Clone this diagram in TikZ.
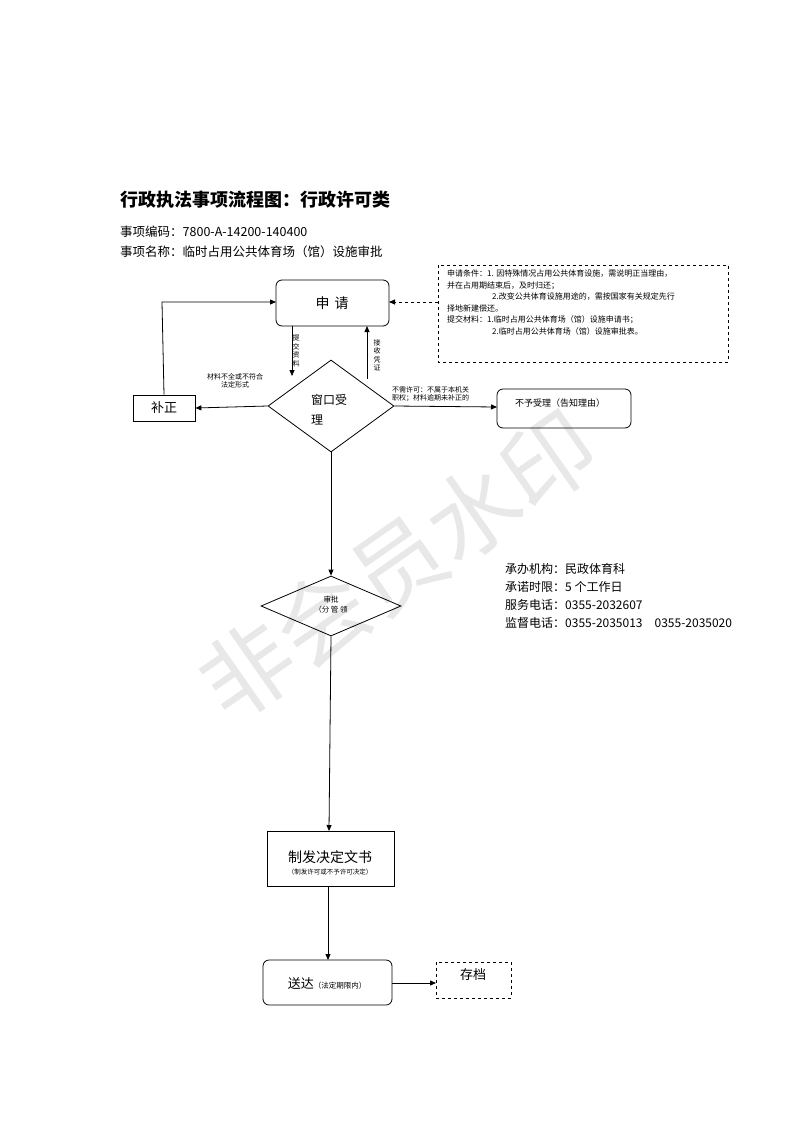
\documentclass[tikz,border=0pt]{standalone}
\usepackage{fontspec}
\setmainfont{Noto Sans CJK SC}
\usetikzlibrary{shapes.geometric,arrows.meta}
\begin{document}
\begin{tikzpicture}[x=1pt,y=-1pt,
 every node/.style={inner sep=0pt},
 arr/.style={-{Triangle[length=6pt,width=5pt]},line width=0.8pt},
 ln/.style={line width=0.8pt},
 tiny/.style={font=\fontsize{7}{8}\selectfont,align=center},
 vert/.style={font=\fontsize{7}{8.5}\selectfont,align=center}]
\useasboundingbox (0,0) rectangle (793,1122);
\node[rotate=35,text=black!9,font=\fontsize{92}{92}\selectfont] (wm) at (398,565) {非会员水印};
\node[anchor=west,font=\bfseries\fontsize{18}{20}\selectfont] (title) at (120,200) {行政执法事项流程图：行政许可类};
\node[anchor=west,font=\fontsize{12.5}{14}\selectfont] (code) at (120,232) {事项编码：7800-A-14200-140400};
\node[anchor=west,font=\fontsize{12.5}{14}\selectfont] (name) at (120,252) {事项名称：临时占用公共体育场（馆）设施审批};
\draw[ln,rounded corners=6pt] (276,280) rectangle (389,326);
\node (sq) at (332,303) {\fontsize{14}{16}\selectfont 申\hspace{5pt}请};
\draw[ln,dashed] (438,265) rectangle (728,362);
\node[anchor=north west,align=left,font=\fontsize{8}{11.5}\selectfont] (cond) at (447,270) {申请条件：1. 因特殊情况占用公共体育设施，需说明正当理由，\\并在占用期结束后，及时归还；\\\hspace{45pt}2.改变公共体育设施用途的，需按国家有关规定先行\\择地新建偿还。\\提交材料：1.临时占用公共体育场（馆）设施申请书；\\\hspace{45pt}2.临时占用公共体育场（馆）设施审批表。};
\coordinate (dl) at (438,302);
\draw[arr,dashed] (dl) -- (389,302);
\node[draw,ln,diamond,aspect=1.37,minimum width=126pt,minimum height=92pt] (ck) at (331,406) {};
\node[font=\fontsize{12}{20}\selectfont,align=left] at (329,410) {窗口受\\理};
\node[draw,ln,minimum width=62pt,minimum height=26pt,font=\fontsize{13}{14}\selectfont] (bz) at (164,408) {补正};
\draw[arr] (ck.west) -- (bz.east);
\draw[arr] (bz.north) -- (162,302) -- (276,302);
\node[tiny] (l1) at (235,381) {材料不全或不符合\\法定形式};
\draw[arr] (292,326) -- (292,376);
\node[vert] (l2) at (296,351) {提\\交\\资\\料};
\draw[arr] (367,379) -- (367,326);
\node[vert] (l3) at (377,355) {接\\收\\凭\\证};
\draw[draw,ln,rounded corners=6pt] (497,389) rectangle (631,428);
\node[font=\fontsize{9}{10}\selectfont] (nr) at (560,403) {不予受理（告知理由）};
\coordinate (nrw) at (497,407);
\draw[arr] (ck.east) -- (nrw);
\node[tiny,align=left,anchor=west] (l4) at (392,394) {不需许可：不属于本机关\\职权；材料逾期未补正的};
\node[draw,ln,diamond,aspect=2.33,minimum width=140pt,minimum height=60pt] (sp) at (331,606) {};
\node[font=\fontsize{7.5}{8}\selectfont] (sp1) at (331,600) {审批};
\node[font=\fontsize{7.5}{8}\selectfont] (sp2) at (331,610) {（分 管 领};
\draw[arr] (ck.south) -- (sp.north);
\draw[ln,draw] (267,831) rectangle (394,886);
\node (zf) at (330,857) {\fontsize{14}{16}\selectfont 制发决定文书};
\node[tiny,font=\fontsize{6.5}{8}\selectfont] (zf2) at (330,872) {（制发许可或不予许可决定）};
\draw[arr] (sp.south) -- (329,831);
\draw[ln,rounded corners=6pt] (263,960) rectangle (392,1005);
\node (sd) at (327,984) {\fontsize{13}{14}\selectfont 送达\fontsize{7.5}{9}\selectfont（法定期限内）};
\draw[arr] (328,886) -- (328,960);
\draw[ln,dashed] (436,962) rectangle (511,998);
\node[font=\fontsize{13}{14}\selectfont] (cd) at (473,975) {存档};
\draw[arr] (392,983) -- (436,983);
\node[anchor=north west,align=left,font=\fontsize{12}{18}\selectfont] (info) at (505,563) {承办机构：民政体育科\\承诺时限：5 个工作日\\服务电话：0355-2032607\\监督电话：0355-2035013\quad 0355-2035020};
\end{tikzpicture}
\end{document}
